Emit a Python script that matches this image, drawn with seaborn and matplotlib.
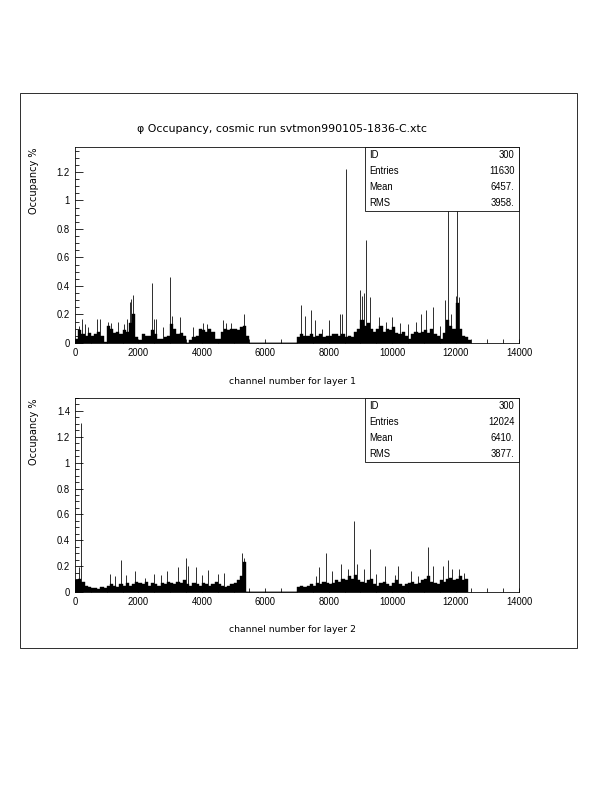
import numpy as np
import pandas as pd
import matplotlib
matplotlib.use("Agg")
import matplotlib.pyplot as plt
import seaborn as sns
from matplotlib.patches import Rectangle
from matplotlib.ticker import MultipleLocator

# ---- data (100-channel blocks + single hot channels) ----
block_w = 100

l1_base = [0.03, 0.09, 0.06, 0.05, 0.07, 0.05, 0.06, 0.08, 0.05, 0.01,
           0.12, 0.10, 0.07, 0.08, 0.06, 0.09, 0.08, 0.14, 0.20, 0.04,
           0.02, 0.06, 0.05, 0.05, 0.09, 0.06, 0.03, 0.03, 0.04, 0.05,
           0.13, 0.10, 0.06, 0.07, 0.05, 0.00, 0.02, 0.04, 0.05, 0.10,
           0.09, 0.08, 0.10, 0.08, 0.03, 0.03, 0.08, 0.10, 0.09, 0.10,
           0.10, 0.09, 0.11, 0.12, 0.05, 0.00, 0.00, 0.00, 0.00, 0.00,
           0.00, 0.00, 0.00, 0.00, 0.00, 0.00, 0.00, 0.00, 0.00, 0.00,
           0.04, 0.06, 0.05, 0.05, 0.06, 0.04, 0.05, 0.06, 0.04, 0.05,
           0.05, 0.06, 0.06, 0.05, 0.06, 0.04, 0.05, 0.04, 0.08, 0.10,
           0.16, 0.12, 0.14, 0.10, 0.08, 0.10, 0.12, 0.08, 0.10, 0.09,
           0.11, 0.07, 0.06, 0.08, 0.05, 0.03, 0.06, 0.08, 0.07, 0.08,
           0.09, 0.07, 0.10, 0.06, 0.05, 0.03, 0.07, 0.16, 0.12, 0.10,
           0.28, 0.10, 0.05, 0.04, 0.02]

l1_spike_ch = [120, 220, 330, 420, 680, 780, 1050, 1150, 1350, 1530, 1630,
               1720, 1780, 1830, 2430, 2480, 2560, 2780, 2990, 3070, 3320,
               3720, 4050, 4150, 4680, 4750, 4920, 5330,
               7140, 7260, 7450, 7560, 7800, 8000, 8360, 8420, 8550, 8990,
               9040, 9100, 9180, 9300, 9600, 9800, 10000, 10250, 10500,
               10750, 10900, 11070, 11300, 11500, 11680, 11770, 11850,
               12000, 12050, 12100]
l1_spike_val = [0.12, 0.17, 0.13, 0.11, 0.17, 0.17, 0.15, 0.14, 0.15, 0.13, 0.17,
                0.29, 0.31, 0.34, 0.42, 0.17, 0.17, 0.11, 0.46, 0.19, 0.18,
                0.11, 0.14, 0.13, 0.16, 0.14, 0.14, 0.20,
                0.27, 0.19, 0.23, 0.16, 0.10, 0.16, 0.20, 0.20, 1.22, 0.37,
                0.33, 0.35, 0.72, 0.32, 0.18, 0.15, 0.18, 0.14, 0.13,
                0.15, 0.20, 0.23, 0.25, 0.12, 0.30, 1.00, 0.20,
                0.33, 1.06, 0.32]

l2_base = [0.09, 0.10, 0.08, 0.05, 0.04, 0.03, 0.03, 0.02, 0.04, 0.03,
           0.05, 0.06, 0.05, 0.04, 0.06, 0.05, 0.07, 0.05, 0.06, 0.08,
           0.07, 0.06, 0.08, 0.05, 0.07, 0.06, 0.05, 0.07, 0.06, 0.08,
           0.07, 0.06, 0.08, 0.07, 0.09, 0.06, 0.05, 0.07, 0.06, 0.05,
           0.07, 0.06, 0.05, 0.06, 0.08, 0.06, 0.05, 0.04, 0.05, 0.06,
           0.07, 0.09, 0.12, 0.23, 0.00, 0.00, 0.00, 0.00, 0.00, 0.00,
           0.00, 0.00, 0.00, 0.00, 0.00, 0.00, 0.00, 0.00, 0.00, 0.00,
           0.04, 0.05, 0.04, 0.05, 0.06, 0.05, 0.07, 0.06, 0.08, 0.07,
           0.06, 0.07, 0.09, 0.08, 0.10, 0.09, 0.12, 0.10, 0.13, 0.09,
           0.08, 0.07, 0.09, 0.10, 0.06, 0.05, 0.07, 0.08, 0.06, 0.05,
           0.07, 0.09, 0.06, 0.05, 0.06, 0.07, 0.08, 0.06, 0.07, 0.09,
           0.10, 0.12, 0.08, 0.07, 0.06, 0.09, 0.08, 0.10, 0.11, 0.09,
           0.10, 0.12, 0.09, 0.10]

l2_spike_ch = [120, 190, 1100, 1250, 1450, 1600, 1900, 2200, 2500, 2700, 2900,
               3250, 3500, 3550, 3800, 4000, 4200, 4500, 4700, 5280, 5320,
               7600, 7700, 7900, 8100, 8400, 8600, 8800,
               8900, 9100, 9300, 9500, 9780, 10100, 10200, 10600, 10800,
               11130, 11300, 11600, 11750, 11900, 12100, 12250]
l2_spike_val = [0.19, 1.31, 0.14, 0.12, 0.25, 0.13, 0.16, 0.11, 0.14, 0.13, 0.16,
                0.19, 0.26, 0.20, 0.19, 0.13, 0.17, 0.14, 0.15, 0.30, 0.26,
                0.12, 0.19, 0.30, 0.16, 0.22, 0.18, 0.55,
                0.22, 0.18, 0.33, 0.14, 0.20, 0.13, 0.20, 0.16, 0.12,
                0.35, 0.20, 0.20, 0.25, 0.18, 0.18, 0.15]

stats_labels = ["ID", "Entries", "Mean", "RMS"]
l1_stats = ["300", "11630", "6457.", "3958."]
l2_stats = ["300", "12024", "6410.", "3877."]

x_ticks = [0, 2000, 4000, 6000, 8000, 10000, 12000, 14000]
l1_yticks = [0, 0.2, 0.4, 0.6, 0.8, 1.0, 1.2]
l1_ylabels = ["0", "0.2", "0.4", "0.6", "0.8", "1", "1.2"]
l2_yticks = [0, 0.2, 0.4, 0.6, 0.8, 1.0, 1.2, 1.4]
l2_ylabels = ["0", "0.2", "0.4", "0.6", "0.8", "1", "1.2", "1.4"]

title = "\u03c6 Occupancy, cosmic run svtmon990105-1836-C.xtc"

sns.set_style("ticks")
plt.rcParams['font.family'] = ['Liberation Sans', 'DejaVu Sans']
plt.rcParams['font.size'] = 9
for key in ["text.color", "axes.labelcolor", "xtick.color", "ytick.color",
            "axes.edgecolor"]:
    plt.rcParams[key] = "black"

fig = plt.figure(figsize=(8.5, 11), dpi=72)

# outer frame
fig.patches.append(Rectangle((20 / 612, 1 - 648 / 792), 557 / 612, 555 / 792,
                             transform=fig.transFigure, fill=False,
                             edgecolor="black", linewidth=0.8))
fig.text(282 / 612, 1 - 129 / 792, title, ha="center", va="center",
         fontsize=11, family="DejaVu Sans")


def draw_layer(ax, base, sp_ch, sp_val, ymax, yticks, ylabels, stats, xlabel):
    n = len(base)
    df = pd.DataFrame({"ch": np.arange(n) * block_w + block_w / 2,
                       "occ": base})
    sns.histplot(data=df, x="ch", weights="occ",
                 bins=n, binrange=(0, n * block_w),
                 element="step", fill=True, color="black", alpha=1,
                 linewidth=0.4, ax=ax)
    ax.vlines(sp_ch, 0, sp_val, color="black", linewidth=0.8)
    ax.set_xlim(0, 14000)
    ax.set_ylim(0, ymax)
    ax.set_xticks(x_ticks)
    ax.set_xticklabels([str(t) for t in x_ticks])
    ax.set_yticks(yticks)
    ax.set_yticklabels(ylabels)
    ax.xaxis.set_minor_locator(MultipleLocator(500))
    ax.yaxis.set_minor_locator(MultipleLocator(0.05))
    ax.tick_params(which="major", direction="in", width=0.8,
                   labelsize=9.5, pad=5)
    ax.tick_params(axis="y", which="major", length=8)
    ax.tick_params(axis="y", which="minor", direction="in", length=4, width=0.8)
    ax.tick_params(axis="x", which="both", direction="in", length=4.5, width=0.8)
    for s in ax.spines.values():
        s.set_visible(True)
        s.set_linewidth(0.8)
        s.set_color("black")
    ax.set_xlabel("")
    ax.set_ylabel("")
    ax.grid(False)
    # y title, top aligned like PAW
    ax.text(-0.093, 1.0, "Occupancy %", rotation=90, ha="center", va="top",
            transform=ax.transAxes, fontsize=9.8, family="DejaVu Sans")
    ax.text(0.49, -0.195, xlabel, ha="center", va="center",
            transform=ax.transAxes, fontsize=9.2, family="DejaVu Sans")
    # stats box
    x0 = (365 - 75) / 444
    h = 64 / (ax.get_position().height * 792)
    ax.add_patch(Rectangle((x0, 1 - h), 1 - x0, h, transform=ax.transAxes,
                           fill=True, facecolor="white", edgecolor="black",
                           linewidth=0.8, zorder=5, clip_on=False))
    row = h / 4
    for i, (lab, val) in enumerate(zip(stats_labels, stats)):
        yy = 1 - row * (i + 0.5)
        ax.text(x0 + 0.01, yy, lab, ha="left", va="center",
                transform=ax.transAxes, fontsize=9.5, zorder=6)
        ax.text(0.99, yy, val, ha="right", va="center",
                transform=ax.transAxes, fontsize=9.5, zorder=6)


ax1 = fig.add_axes([75 / 612, 1 - 343 / 792, 444 / 612, 196 / 792])
draw_layer(ax1, l1_base, l1_spike_ch, l1_spike_val, 1.375, l1_yticks,
           l1_ylabels, l1_stats, "channel number for layer 1")

ax2 = fig.add_axes([75 / 612, 1 - 592 / 792, 444 / 612, 194 / 792])
draw_layer(ax2, l2_base, l2_spike_ch, l2_spike_val, 1.5, l2_yticks,
           l2_ylabels, l2_stats, "channel number for layer 2")

fig.savefig("out.png", dpi=72, facecolor="white")
